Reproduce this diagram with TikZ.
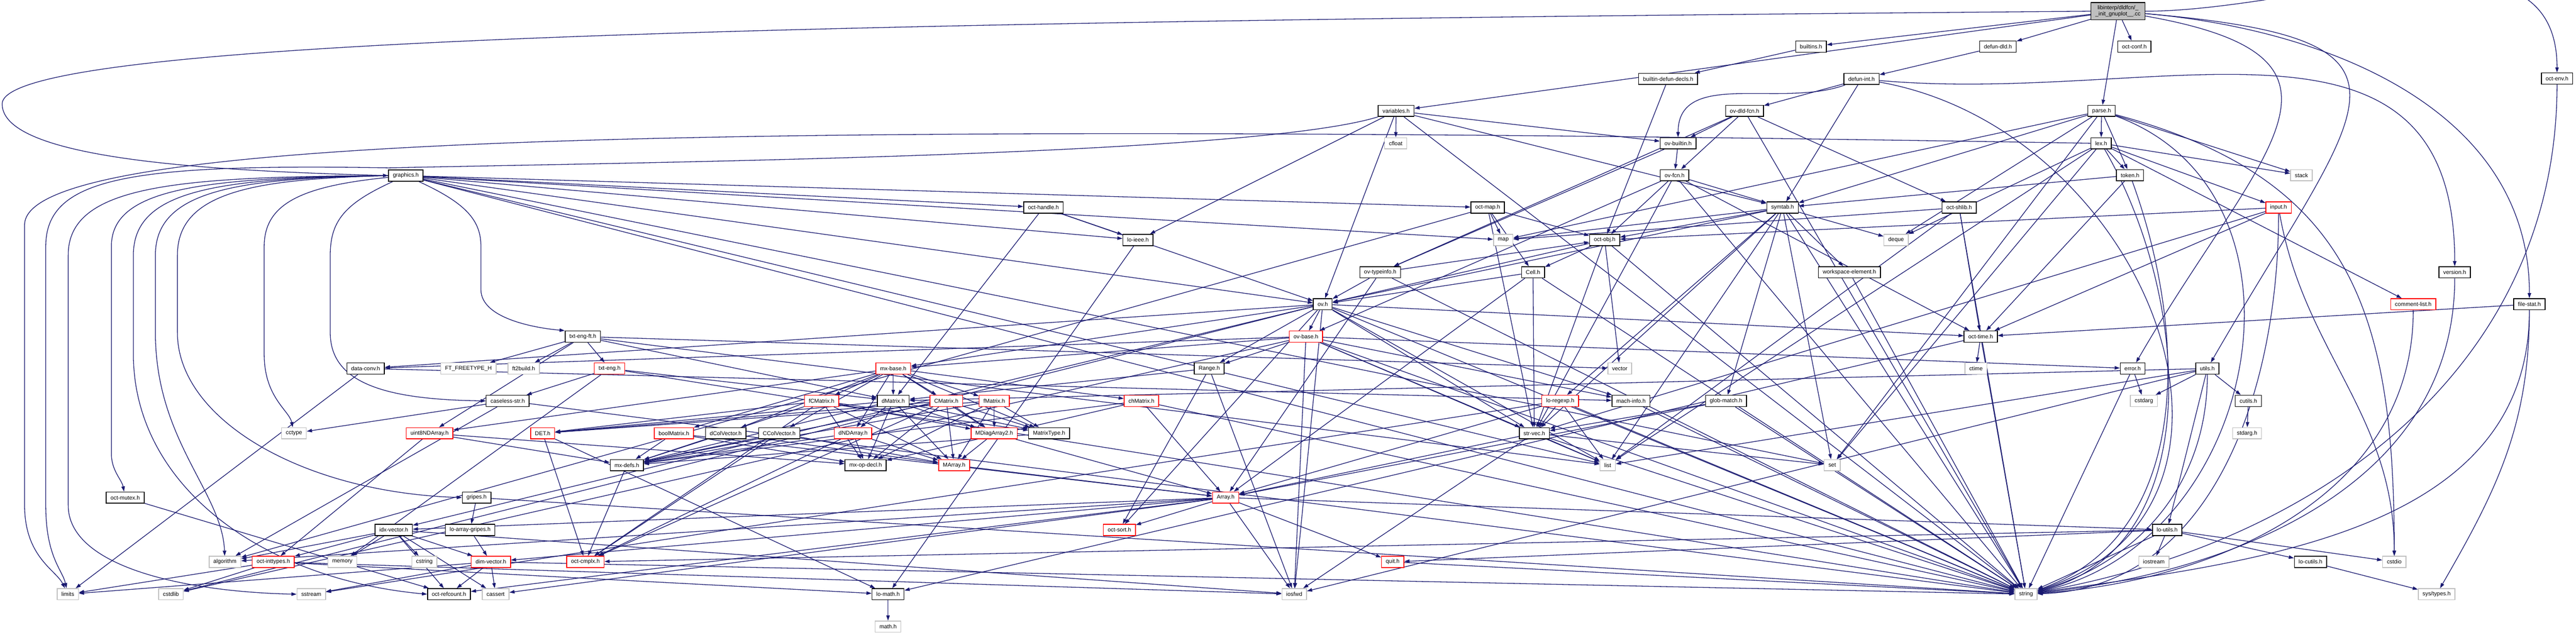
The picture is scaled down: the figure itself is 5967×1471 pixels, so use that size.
\documentclass[tikz,border=0pt]{standalone}
\usepackage{fontspec}
\setmainfont{Liberation Sans}
\usetikzlibrary{arrows.meta}
\definecolor{edgeblue}{HTML}{191970}
\definecolor{ghost}{HTML}{BFBFBF}
\pgfdeclarelayer{bg}
\pgfsetlayers{bg,main}
\begin{document}
\begin{tikzpicture}[x=0.4pt,y=0.4pt,
  box/.style={draw=black,line width=0.7pt,fill=white,rectangle,minimum height=10.4pt,inner xsep=4pt,inner ysep=0.8pt,font=\fontsize{5.2pt}{6pt}\selectfont,text=black},
  ext/.style={box,draw=ghost},
  rbox/.style={box,draw=red},
  topn/.style={box,fill=ghost,align=center,minimum height=16pt},
  edge/.style={draw=edgeblue,line width=0.62pt,-{Triangle[length=4.8pt,width=3.2pt]}},
]
\useasboundingbox (0,0) rectangle (5967,1471);
% ---------------- nodes
\node[topn] (top) at (4906,1445) {libinterp/dldfcn/\_\\\_init\_gnuplot\_\_.cc};
\node[box] (builtins) at (4195,1363) {builtins.h};
\node[box] (defundld) at (4628,1363) {defun-dld.h};
\node[box] (octconf) at (4944,1363) {oct-conf.h};
\node[box] (bdecls) at (3864,1288) {builtin-defun-decls.h};
\node[box] (defunint) at (4312,1288) {defun-int.h};
\node[box] (octenv) at (5923,1289) {oct-env.h};
\node[box] (variables) at (3234,1214) {variables.h};
\node[box] (ovdld) at (4041,1214) {ov-dld-fcn.h};
\node[box] (parse) at (4868,1214) {parse.h};
\node[ext] (cfloat) at (3233,1139) {cfloat};
\node[box] (ovbuiltin) at (3887,1139) {ov-builtin.h};
\node[box] (lex) at (4867,1139) {lex.h};
\node[box] (graphics) at (940,1064) {graphics.h};
\node[box] (ovfcn) at (3879,1065) {ov-fcn.h};
\node[box] (token) at (4934,1065) {token.h};
\node[ext] (stack) at (5331,1065) {stack};
\node[box] (octhandle) at (2417,990) {oct-handle.h};
\node[box] (octmap) at (3446,990) {oct-map.h};
\node[box] (symtab) at (4129,990) {symtab.h};
\node[box] (octshlib) at (4538,990) {oct-shlib.h};
\node[rbox] (input) at (5278,990) {input.h};
\node[box] (loieee) at (2636,915) {lo-ieee.h};
\node[ext] (map) at (3482,915) {map};
\node[box] (octobj) at (3717,915) {oct-obj.h};
\node[ext] (deque) at (4392,915) {deque};
\node[box] (ovtypeinfo) at (3197,840) {ov-typeinfo.h};
\node[box] (cell) at (3551,840) {Cell.h};
\node[box] (wselem) at (4284,840) {workspace-element.h};
\node[box] (version) at (5686,840) {version.h};
\node[box] (ov) at (3064,766) {ov.h};
\node[rbox] (commentlist) at (5590,766) {comment-list.h};
\node[box] (filestat) at (5859,766) {file-stat.h};
\node[box] (txtengft) at (1350,691) {txt-eng-ft.h};
\node[rbox] (ovbase) at (3025,691) {ov-base.h};
\node[box] (octtime) at (4588,691) {oct-time.h};
\node[box] (dataconv) at (847,617) {data-conv.h};
\node[ext] (ftfreetype) at (1085,617) {FT\_FREETYPE\_H};
\node[ext] (ft2build) at (1213,617) {ft2build.h};
\node[rbox] (txteng) at (1412,617) {txt-eng.h};
\node[rbox] (mxbase) at (2069,617) {mx-base.h};
\node[box] (range) at (2801,617) {Range.h};
\node[ext] (vector) at (3752,617) {vector};
\node[ext] (ctime) at (4577,617) {ctime};
\node[box] (error) at (4940,617) {error.h};
\node[box] (utils) at (5113,617) {utils.h};
\node[box] (caseless) at (1176,542) {caseless-str.h};
\node[rbox] (fcmatrix) at (1903,542) {fCMatrix.h};
\node[box] (dmatrix) at (2069,542) {dMatrix.h};
\node[rbox] (cmatrix) at (2192,542) {CMatrix.h};
\node[rbox] (fmatrix) at (2303,542) {fMatrix.h};
\node[rbox] (chmatrix) at (2644,542) {chMatrix.h};
\node[rbox] (loregexp) at (3614,542) {lo-regexp.h};
\node[box] (machinfo) at (3778,542) {mach-info.h};
\node[box] (globmatch) at (3998,542) {glob-match.h};
\node[ext] (cstdarg) at (4966,542) {cstdarg};
\node[box] (cutils) at (5208,542) {cutils.h};
\node[ext] (cctype) at (681,467) {cctype};
\node[rbox] (uint8nd) at (995,467) {uint8NDArray.h};
\node[rbox] (det) at (1257,467) {DET.h};
\node[rbox] (boolmatrix) at (1561,467) {boolMatrix.h};
\node[box] (dcolvec) at (1681,467) {dColVector.h};
\node[box] (ccolvec) at (1805,467) {CColVector.h};
\node[rbox] (dndarray) at (1976,467) {dNDArray.h};
\node[rbox] (mdiag) at (2303,467) {MDiagArray2.h};
\node[box] (matrixtype) at (2430,467) {MatrixType.h};
\node[box] (strvec) at (3554,467) {str-vec.h};
\node[ext] (stdargh) at (5205,467) {stdarg.h};
\node[box] (mxdefs) at (1452,393) {mx-defs.h};
\node[box] (mxopdecl) at (2005,393) {mx-op-decl.h};
\node[rbox] (marray) at (2210,393) {MArray.h};
\node[ext] (list) at (3724,393) {list};
\node[ext] (set) at (4244,393) {set};
\node[box] (octmutex) at (290,318) {oct-mutex.h};
\node[box] (gripes) at (1104,318) {gripes.h};
\node[rbox] (array) at (2839,318) {Array.h};
\node[box] (idxvec) at (912,243) {idx-vector.h};
\node[box] (loarraygripes) at (1089,243) {lo-array-gripes.h};
\node[rbox] (octsort) at (2593,243) {oct-sort.h};
\node[box] (loutils) at (5020,243) {lo-utils.h};
\node[ext] (algorithm) at (521,169) {algorithm};
\node[rbox] (octinttypes) at (633,169) {oct-inttypes.h};
\node[ext] (memory) at (793,169) {memory};
\node[ext] (cstring) at (983,169) {cstring};
\node[rbox] (dimvec) at (1137,169) {dim-vector.h};
\node[rbox] (octcmplx) at (1356,169) {oct-cmplx.h};
\node[rbox] (quit) at (3226,169) {quit.h};
\node[ext] (iostream) at (4989,169) {iostream};
\node[box] (locutils) at (5352,169) {lo-cutils.h};
\node[ext] (cstdio) at (5546,169) {cstdio};
\node[ext] (limits) at (157,94) {limits};
\node[ext] (cstdlib) at (396,94) {cstdlib};
\node[ext] (sstream) at (721,94) {sstream};
\node[box] (octrefcount) at (1040,94) {oct-refcount.h};
\node[ext] (cassert) at (1148,94) {cassert};
\node[box] (lomath) at (2057,94) {lo-math.h};
\node[ext] (iosfwd) at (2998,94) {iosfwd};
\node[ext] (string) at (4693,94) {string};
\node[ext] (systypes) at (5644,94) {sys/types.h};
\node[ext] (mathh) at (2057,19) {math.h};
% ---------------- edges
\begin{pgfonlayer}{bg}
\fill[white] (0,0) rectangle (5967,1471);
\foreach \a/\b in {top/defundld, top/octconf, top/parse, top/builtins, top/variables,
builtins/bdecls, bdecls/octobj, defundld/defunint,
defunint/ovdld, defunint/symtab,
variables/cfloat, variables/loieee, variables/ov, variables/ovbuiltin, variables/symtab, variables/string,
ovdld/ovbuiltin, ovdld/ovfcn, ovdld/octshlib, ovdld/ovtypeinfo, ovdld/string,
parse/lex, parse/token, parse/stack, parse/symtab, parse/deque, parse/map, parse/set,
ovbuiltin/ovfcn, ovbuiltin/ovtypeinfo,
lex/token, lex/input, lex/stack, lex/commentlist, lex/list, lex/set, lex/deque,
graphics/octhandle, graphics/ov, graphics/octmap, graphics/loieee, graphics/map, graphics/list, graphics/set, graphics/string,
ovfcn/symtab, ovfcn/octtime, ovfcn/strvec, ovfcn/octobj, ovfcn/ovbase, ovfcn/string,
token/symtab, token/octtime,
octhandle/loieee, octhandle/dmatrix, octhandle/ov,
octmap/map, octmap/octobj, octmap/cell, octmap/strvec, octmap/algorithm,
symtab/deque, symtab/list, symtab/map, symtab/set, symtab/string, symtab/globmatch, symtab/loregexp, symtab/octobj, symtab/wselem, symtab/ov, symtab/strvec,
octshlib/octtime, octshlib/string, octshlib/map, octshlib/list,
input/octtime, input/octobj, input/strvec,
loieee/lomath,
octobj/vector, octobj/cell, octobj/ov, octobj/strvec, octobj/string,
cell/ov, cell/array, cell/strvec, cell/string,
ovtypeinfo/ov, ovtypeinfo/array, ovtypeinfo/octobj, ovtypeinfo/string,
wselem/string,
ov/ovbase, ov/range, ov/dataconv, ov/idxvec, ov/machinfo, ov/mxbase, ov/octtime, ov/strvec, ov/octsort, ov/cstdlib, ov/iosfwd, ov/string, ov/list,
filestat/octtime,
txtengft/ftfreetype, txtengft/ft2build, txtengft/txteng, txtengft/dmatrix, txtengft/uint8nd, txtengft/list, txtengft/vector,
ovbase/range, ovbase/dataconv, ovbase/mxbase, ovbase/strvec, ovbase/error, ovbase/cstdlib, ovbase/iosfwd, ovbase/list, ovbase/string, ovbase/machinfo,
octtime/ctime, octtime/lomath, octtime/string,
dataconv/limits, dataconv/machinfo,
txteng/caseless, txteng/dmatrix, txteng/memory, txteng/string,
mxbase/fcmatrix, mxbase/dmatrix, mxbase/cmatrix, mxbase/fmatrix, mxbase/chmatrix, mxbase/boolmatrix, mxbase/dcolvec, mxbase/ccolvec, mxbase/dndarray, mxbase/matrixtype, mxbase/uint8nd, mxbase/mdiag,
range/dmatrix, range/octsort, range/iosfwd,
error/cstdarg, error/string,
utils/cstdarg, utils/cutils, utils/loutils, utils/iosfwd, utils/list, utils/dmatrix,
caseless/algorithm, caseless/string, caseless/cctype,
fcmatrix/det, fcmatrix/mxdefs, fcmatrix/mxopdecl, fcmatrix/octcmplx, fcmatrix/marray, fcmatrix/matrixtype, fcmatrix/mdiag,
dmatrix/det, dmatrix/mxdefs, dmatrix/mxopdecl, dmatrix/marray, dmatrix/matrixtype, dmatrix/dndarray, dmatrix/mdiag,
cmatrix/det, cmatrix/mxdefs, cmatrix/mxopdecl, cmatrix/octcmplx, cmatrix/marray, cmatrix/matrixtype, cmatrix/mdiag,
fmatrix/det, fmatrix/mxdefs, fmatrix/mxopdecl, fmatrix/marray, fmatrix/matrixtype, fmatrix/mdiag,
chmatrix/mxdefs, chmatrix/mxopdecl, chmatrix/array, chmatrix/string,
loregexp/list, loregexp/sstream, loregexp/string, loregexp/array, loregexp/strvec,
machinfo/string,
globmatch/array, globmatch/string, globmatch/strvec,
cutils/stdargh,
uint8nd/octinttypes, uint8nd/mxopdecl, uint8nd/mxdefs,
det/octcmplx, det/lomath,
boolmatrix/mxdefs, boolmatrix/mxopdecl, boolmatrix/array,
dcolvec/mxdefs, dcolvec/marray,
ccolvec/mxdefs, ccolvec/marray, ccolvec/octcmplx,
dndarray/mxdefs, dndarray/mxopdecl, dndarray/marray, dndarray/octcmplx,
mdiag/marray, mdiag/array,
matrixtype/mxdefs,
strvec/iosfwd, strvec/list, strvec/set, strvec/string, strvec/array,
mxdefs/octcmplx,
marray/array,
gripes/loarraygripes, gripes/string,
array/octsort, array/octrefcount, array/dimvec, array/idxvec, array/cassert, array/iosfwd, array/quit, array/algorithm, array/loutils,
idxvec/algorithm, idxvec/octinttypes, idxvec/memory, idxvec/cstring, idxvec/dimvec, idxvec/octrefcount, idxvec/cassert, idxvec/iosfwd,
loarraygripes/dimvec,
loutils/iostream, loutils/locutils, loutils/cstdio, loutils/string, loutils/quit, loutils/octcmplx,
octinttypes/limits, octinttypes/cstdlib, octinttypes/lomath, octinttypes/iosfwd,
dimvec/sstream, dimvec/octrefcount, dimvec/cassert, dimvec/limits, dimvec/string,
quit/string,
locutils/systypes,
lomath/mathh,
octmutex/octrefcount}
  \draw[edge] (\a) -- (\b);
% long routed edges
\draw[edge] (top.west) .. controls (1800,1420) and (5,1380) .. (5,1230) .. controls (5,1100) and (500,1075) .. (graphics.west);
\draw[edge] (lex.west) .. controls (1500,1195) and (57,1150) .. (57,950) -- (57,300) .. controls (57,180) and (130,150) .. (limits);
\draw[edge] (variables.south west) .. controls (2900,1110) and (1500,1095) .. (900,1082) .. controls (300,1092) and (106,1060) .. (106,900) -- (106,300) .. controls (106,180) and (145,150) .. (limits);
% graphics fan to the left
\draw[edge] (graphics.west) .. controls (400,1062) and (158,1040) .. (158,880) -- (158,300) .. controls (158,160) and (420,100) .. (sstream.west);
\draw[edge] (graphics.west) .. controls (450,1060) and (258,1030) .. (258,900) -- (258,420) .. controls (258,380) and (282,360) .. (octmutex);
\draw[edge] (graphics.west) .. controls (500,1058) and (309,1030) .. (309,880) -- (309,650) .. controls (309,350) and (600,130) .. (octrefcount.west);
\draw[edge] (graphics.west) .. controls (550,1058) and (360,1030) .. (360,880) -- (360,700) .. controls (360,450) and (515,330) .. (algorithm);
\draw[edge] (graphics.west) .. controls (600,1056) and (411,1030) .. (411,880) -- (411,700) .. controls (411,500) and (700,330) .. (gripes.west);
\draw[edge] (graphics) .. controls (700,1040) and (612,1000) .. (612,900) -- (612,650) .. controls (612,550) and (670,520) .. (cctype);
\draw[edge] (graphics) .. controls (800,1000) and (765,960) .. (765,880) -- (765,700) .. controls (765,580) and (900,545) .. (caseless.west);
\draw[edge] (graphics) .. controls (1080,1000) and (1114,960) .. (1114,900) -- (1114,800) .. controls (1114,730) and (1250,710) .. (txtengft.north west);
% right side sweeps
\draw[edge] (top) to[out=-10,in=60,looseness=1.8] (error);
\draw[edge] (top) to[out=-5,in=60,looseness=2.2] (utils);
\draw[edge] (top) to[out=-5,in=90] (filestat);
\draw[edge] (top) to[out=0,in=90] (octenv);
\draw[edge] (octenv) to[out=-90,in=10] (string);
\draw[edge] (filestat) to[out=-90,in=8] (string);
\draw[edge] (filestat) to[out=-90,in=60] (systypes);
\draw[edge] (version) to[out=-90,in=6] (string);
\draw[edge] (commentlist) to[out=-90,in=4] (string);
\draw[edge] (input) to[out=-90,in=2] (string);
\draw[edge] (input) to[out=-80,in=90] (cstdio);
\draw[edge] (parse) to[out=-15,in=90,looseness=1.2] (cstdio);
\draw[edge] (parse) to[out=-20,in=12,looseness=1.2] (string);
\draw[edge] (lex) to[out=-60,in=14] (string);
\draw[edge] (utils) to[out=-90,in=16] (string);
\draw[edge] (token) to[out=-70,in=20] (string);
\draw[edge] (defunint) to[out=-5,in=90,looseness=1.2] (version);
\draw[edge] (defunint) to[out=-10,in=18,looseness=1.3] (string);
\draw[edge] (defunint) to[out=200,in=90] (ovbuiltin);
\end{pgfonlayer}
\end{tikzpicture}
\end{document}
